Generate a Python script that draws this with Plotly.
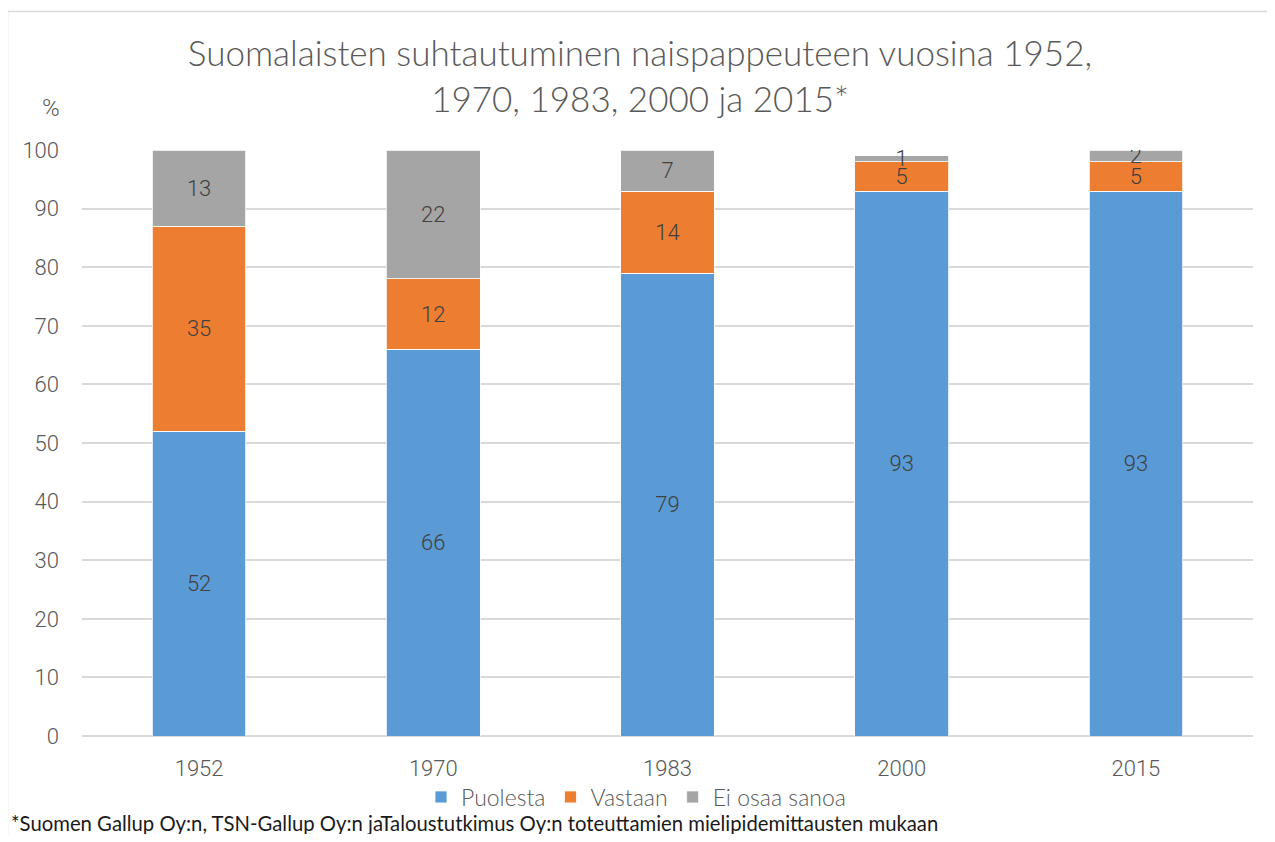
import plotly.graph_objects as go

years = ["1952", "1970", "1983", "2000", "2015"]
puolesta = [52, 66, 79, 93, 93]
vastaan = [35, 12, 14, 5, 5]
ei_osaa = [13, 22, 7, 1, 2]
series_names = ["Puolesta", "Vastaan", "Ei osaa sanoa"]
colors = ["#5B9BD5", "#ED7D31", "#A5A5A5"]
y_ticks = list(range(0, 101, 10))

title_text = "Suomalaisten suhtautuminen naispappeuteen vuosina 1952,<br>1970, 1983, 2000 ja 2015*"
footnote = "*Suomen Gallup Oy:n, TSN-Gallup Oy:n jaTaloustutkimus Oy:n toteuttamien mielipidemittausten mukaan"

# page body has an 8px margin; work in reference pixels and shift
OFF = 8
W, H = 1275 - 2 * OFF, 842 - 2 * OFF
L = 82 - OFF
T = 150 - OFF
B = H - (736 - OFF)
R = W - (1253 - OFF)
pw, ph = W - L - R, H - T - B


def px_to_paper_x(px):
    return (px - OFF - L) / pw


def px_to_paper_y(py):
    return (H - B - (py - OFF)) / ph


fig = go.Figure()
for name, vals, col in zip(series_names, [puolesta, vastaan, ei_osaa], colors):
    fig.add_trace(go.Bar(
        x=years, y=vals, name=name,
        marker=dict(color=col, line=dict(color="white", width=0.8)),
        text=[str(v) for v in vals],
        textposition="inside",
        insidetextanchor="middle",
        textangle=0,
        constraintext="none",
        textfont=dict(family="Roboto", size=22, color="#404040", weight=300),
        hoverinfo="skip",
    ))

fig.update_layout(
    width=W, height=H,
    barmode="stack",
    bargap=0.6,
    plot_bgcolor="white",
    paper_bgcolor="white",
    margin=dict(l=L, r=R, t=T, b=B),
    title=dict(text=title_text, x=(640 - OFF) / W, xanchor="center",
               y=1 - (66 - OFF) / H, yanchor="middle",
               font=dict(family="Lato", size=35, color="#595959", weight=300)),
    xaxis=dict(showgrid=False, showline=False, ticks="", ticklabelstandoff=17,
               tickfont=dict(family="Roboto", size=22, color="#595959", weight=300)),
    yaxis=dict(range=[0, 100], tickvals=y_ticks, showgrid=True, gridcolor="#D9D9D9",
               gridwidth=1.5, zeroline=True, zerolinecolor="#D9D9D9", zerolinewidth=2,
               ticks="", ticklabelstandoff=22,
               tickfont=dict(family="Roboto", size=22, color="#595959", weight=300)),
    legend=dict(orientation="h", x=px_to_paper_x(636), xanchor="center",
                y=px_to_paper_y(797), yanchor="middle",
                font=dict(family="Lato", size=23, color="#595959", weight=300),
                traceorder="normal"),
    showlegend=True,
)

fig.add_annotation(text="%", xref="paper", yref="paper", x=px_to_paper_x(51), y=px_to_paper_y(108),
                   xanchor="center", yanchor="middle", showarrow=False,
                   font=dict(family="Roboto", size=24, color="#595959", weight=300))
fig.add_annotation(text=footnote, xref="paper", yref="paper", x=px_to_paper_x(9), y=px_to_paper_y(823),
                   xanchor="left", yanchor="middle", showarrow=False,
                   font=dict(family="Lato", size=20.3, color="#1a1a1a"))
fig.add_shape(type="rect", xref="paper", yref="paper",
              x0=px_to_paper_x(7.5), x1=px_to_paper_x(1300), y0=px_to_paper_y(11.5), y1=px_to_paper_y(900),
              line=dict(color="#D9D9D9", width=1.5), fillcolor="rgba(0,0,0,0)", layer="below")

fig.write_html("out.html")
